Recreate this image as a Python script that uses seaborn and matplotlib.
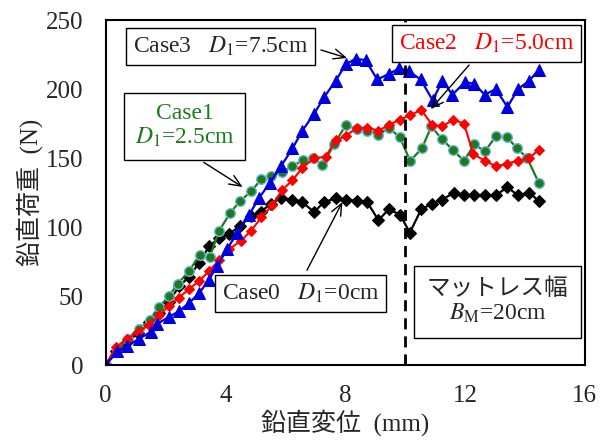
import matplotlib
matplotlib.use("Agg")
import matplotlib.pyplot as plt
import seaborn as sns

# Case0  D1=0cm (black diamonds)
x0 = [0, 0.35, 0.72, 1.08, 1.45, 1.78, 2.11, 2.45, 2.78, 3.12, 3.45, 3.78, 4.12, 4.50, 4.84,
      5.18, 5.51, 5.85, 6.24, 6.57, 6.96, 7.29, 7.68, 8.02, 8.38, 8.74, 9.11, 9.46, 9.83,
      10.16, 10.54, 10.91, 11.25, 11.63, 11.97, 12.30, 12.66, 13.03, 13.42, 13.77, 14.14, 14.47]
y0 = [0, 10, 17, 23, 31, 38, 46, 57, 64, 74, 86, 92, 95, 101, 108,
      111, 117, 121, 120, 118, 111, 118, 121, 120, 119, 118, 105, 113, 109,
      96, 113, 117, 120, 125, 123, 123, 123, 123, 129, 123, 125, 119]

# Case1  D1=2.5cm (green circles)
x1 = [0, 0.39, 0.74, 1.11, 1.48, 1.78, 2.11, 2.41, 2.78, 3.14, 3.47, 3.78, 4.15, 4.49, 4.87,
      5.20, 5.53, 5.90, 6.24, 6.60, 6.94, 7.24, 7.63, 8.02, 8.38, 8.74, 9.11, 9.46, 9.83,
      10.17, 10.56, 10.88, 11.22, 11.60, 11.97, 12.31, 12.67, 13.04, 13.41, 13.75, 14.08, 14.47]
y1 = [0, 11, 19, 26, 33, 42, 50, 59, 68, 80, 78, 97, 110, 119, 126,
      135, 137, 140, 144, 149, 150, 145, 160, 174, 171, 170, 167, 172, 165,
      148, 157, 173, 164, 156, 148, 160, 155, 166, 165, 157, 150, 132]

# Case2  D1=5.0cm (red diamonds)
x2 = [0, 0.33, 0.72, 1.08, 1.45, 1.78, 2.11, 2.45, 2.78, 3.12, 3.45, 3.78, 4.12, 4.51, 4.84,
      5.20, 5.57, 5.90, 6.24, 6.57, 6.96, 7.35, 7.68, 8.02, 8.38, 8.74, 9.11, 9.46, 9.83,
      10.16, 10.54, 10.91, 11.25, 11.61, 11.97, 12.28, 12.67, 13.05, 13.40, 13.76, 14.14, 14.47]
y2 = [0, 13, 19, 24, 29, 36, 43, 49, 55, 61, 68, 76, 84, 90, 97,
      107, 116, 127, 134, 143, 150, 151, 163, 166, 172, 172, 170, 174, 178,
      181, 185, 174, 173, 178, 175, 153, 148, 144, 146, 148, 150, 156]

# Case3  D1=7.5cm (blue triangles)
x3 = [0, 0.39, 0.72, 1.11, 1.50, 1.73, 2.11, 2.45, 2.78, 3.12, 3.45, 3.73, 4.05, 4.40, 4.79,
      5.12, 5.48, 5.85, 6.24, 6.57, 6.96, 7.29, 7.68, 8.02, 8.35, 8.68, 9.07, 9.46, 9.80,
      10.13, 10.52, 10.92, 11.25, 11.58, 12.00, 12.30, 12.66, 13.03, 13.42, 13.77, 14.14, 14.47]
y3 = [0, 10, 14, 19, 24, 30, 35, 39, 45, 52, 62, 72, 84, 96, 109,
      121, 132, 144, 157, 170, 182, 194, 206, 218, 222, 221, 207, 211, 215,
      213, 207, 192, 206, 196, 205, 204, 196, 200, 187, 200, 206, 214]

sns.set_theme(style="white")
plt.rcParams["font.family"] = ["Liberation Serif", "Noto Sans CJK JP"]
plt.rcParams["mathtext.fontset"] = "stix"

fig = plt.figure(figsize=(6.04, 4.48), dpi=100)
ax = fig.add_axes([0.175, 0.185, 0.793, 0.77])

green = "#1e7a1e"
sns.lineplot(x=x0, y=y0, ax=ax, color="black", marker="D", markersize=6,
             markeredgecolor="black", linewidth=1.6, sort=False)
sns.lineplot(x=x1, y=y1, ax=ax, color=green, marker="o", markersize=7,
             markeredgecolor="#6fb7d9", markeredgewidth=1.0, linewidth=1.6, sort=False)
sns.lineplot(x=x2, y=y2, ax=ax, color="#ff0000", marker="D", markersize=5.5,
             markeredgecolor="#ff0000", linewidth=1.5, sort=False)
sns.lineplot(x=x3, y=y3, ax=ax, color="#0000dd", marker="^", markersize=8,
             markeredgecolor="#0000dd", linewidth=1.6, sort=False)

ax.axvline(10, color="black", linestyle=(0, (4, 2.5)), linewidth=2)

ax.set_xlim(0, 16)
ax.set_ylim(0, 250)
ax.set_xticks([0, 4, 8, 12, 16])
ax.set_yticks([0, 50, 100, 150, 200, 250])
ax.tick_params(axis="y", length=0, labelsize=18, pad=16)
ax.tick_params(axis="x", length=0, labelsize=18, pad=14)
for s in ax.spines.values():
    s.set_color("black")
    s.set_linewidth(1.5)
ax.set_xlabel("鉛直変位  (mm)", fontsize=18, labelpad=2)
ax.set_ylabel("鉛直荷重  (N)", fontsize=18, labelpad=2)

box = dict(boxstyle="square,pad=0.3", facecolor="white", edgecolor="black", linewidth=1)
arrow = dict(arrowstyle="->,head_length=0.7,head_width=0.3", color="black", linewidth=1)

ax.text(3.84, 231, r"Case3   $D_\mathrm{1}$=7.5cm", fontsize=17, ha="center", va="center",
        bbox=box, zorder=5)
ax.annotate("", xy=(8.15, 222), xytext=(7.1, 229), arrowprops=arrow, zorder=5)

ax.text(2.64, 173, "Case1\n" + r"$D_\mathrm{1}$=2.5cm", fontsize=17, ha="center", va="center",
        color=green, bbox=dict(box, boxstyle="square,pad=0.45"), linespacing=1.1, zorder=5)
ax.annotate("", xy=(4.65, 128), xytext=(3.2, 148), arrowprops=arrow, zorder=5)

ax.text(12.73, 233, r"Case2   $D_\mathrm{1}$=5.0cm", fontsize=17, ha="center", va="center",
        color="#ff0000", bbox=box, zorder=5)
ax.annotate("", xy=(10.8, 184), xytext=(12.2, 219), arrowprops=arrow, zorder=5)

ax.text(6.51, 52, r"Case0   $D_\mathrm{1}$=0cm", fontsize=17, ha="center", va="center",
        bbox=box, zorder=5)
ax.annotate("", xy=(7.95, 120), xytext=(6.68, 67), arrowprops=arrow, zorder=5)

ax.text(13.09, 46, "マットレス幅\n" + r"$B_\mathrm{M}$=20cm", fontsize=17, ha="center",
        va="center", bbox=dict(box, boxstyle="square,pad=0.55"), linespacing=1.1, zorder=5)

fig.savefig("out.png", dpi=100)
